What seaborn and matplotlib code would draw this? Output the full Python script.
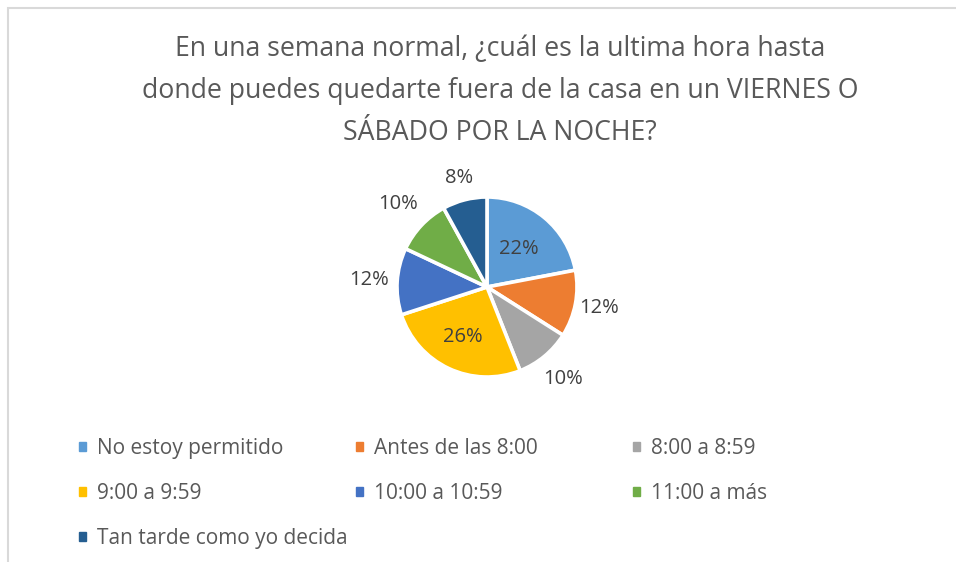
import matplotlib
matplotlib.use('Agg')
import numpy as np
import matplotlib.pyplot as plt
import seaborn as sns
from matplotlib.patches import Rectangle

# === Data ===
categories = ['No estoy permitido', 'Antes de las 8:00', '8:00 a 8:59',
              '9:00 a 9:59', '10:00 a 10:59', '11:00 a más',
              'Tan tarde como yo decida']
percent = [22, 12, 10, 26, 12, 10, 8]
colors = ['#5B9BD5', '#ED7D31', '#A5A5A5', '#FFC000', '#4472C4', '#70AD47', '#255E91']
# label distance from center (in radii), Excel "best fit" style
label_dist = [0.55, 1.27, 1.32, 0.62, 1.31, 1.35, 1.25]

title = ('En una semana normal, ¿cuál es la ultima hora hasta\n'
         'donde puedes quedarte fuera de la casa en un VIERNES O\n'
         'SÁBADO POR LA NOCHE?')

sns.set_theme(style='white')
plt.rcParams['font.family'] = ['Open Sans', 'DejaVu Sans']

W, H = 956, 562
fig = plt.figure(figsize=(W / 100, H / 100), dpi=100)

# chart frame (Excel chart area border)
fig.patches.append(Rectangle((8 / W, -0.1), 1.2, 1 - 8 / H + 0.1,
                             transform=fig.transFigure, fill=False,
                             edgecolor='#D9D9D9', linewidth=1.5))

# === Pie ===
cx, cy, r = 487, 287, 90
side = 2.5 * r
ax = fig.add_axes([(cx - side / 2) / W, 1 - (cy + side / 2) / H, side / W, side / H])
wedges, _ = ax.pie(percent, colors=colors, startangle=90, counterclock=False,
                   wedgeprops=dict(edgecolor='white', linewidth=2.6))
ax.set_xlim(-1.25, 1.25)
ax.set_ylim(-1.25, 1.25)
ax.set_aspect('equal')

for w, p, d in zip(wedges, percent, label_dist):
    ang = np.deg2rad((w.theta1 + w.theta2) / 2)
    ax.text(d * np.cos(ang), d * np.sin(ang), f'{p}%', ha='center', va='center',
            fontsize=14.5, color='#404040')

# === Title ===
fig.text(500 / W, 1 - 35 / H, title, ha='center', va='top', fontsize=19.2,
         color='#595959', linespacing=1.66)

# === Legend (3 columns, filled row by row) ===
handles = [Rectangle((0, 0), 1, 1, color=c) for c in colors]
col_x = [79, 356, 633]
for col, x in enumerate(col_x):
    fig.legend(handles[col::3], categories[col::3], loc='upper left',
               bbox_to_anchor=(x / W, 1 - 438 / H), frameon=False,
               borderaxespad=0, borderpad=0,
               fontsize=15, handlelength=0.35, handleheight=0.35,
               handletextpad=0.5, labelspacing=1.15,
               labelcolor='#595959')

fig.savefig('out.png', dpi=100)
